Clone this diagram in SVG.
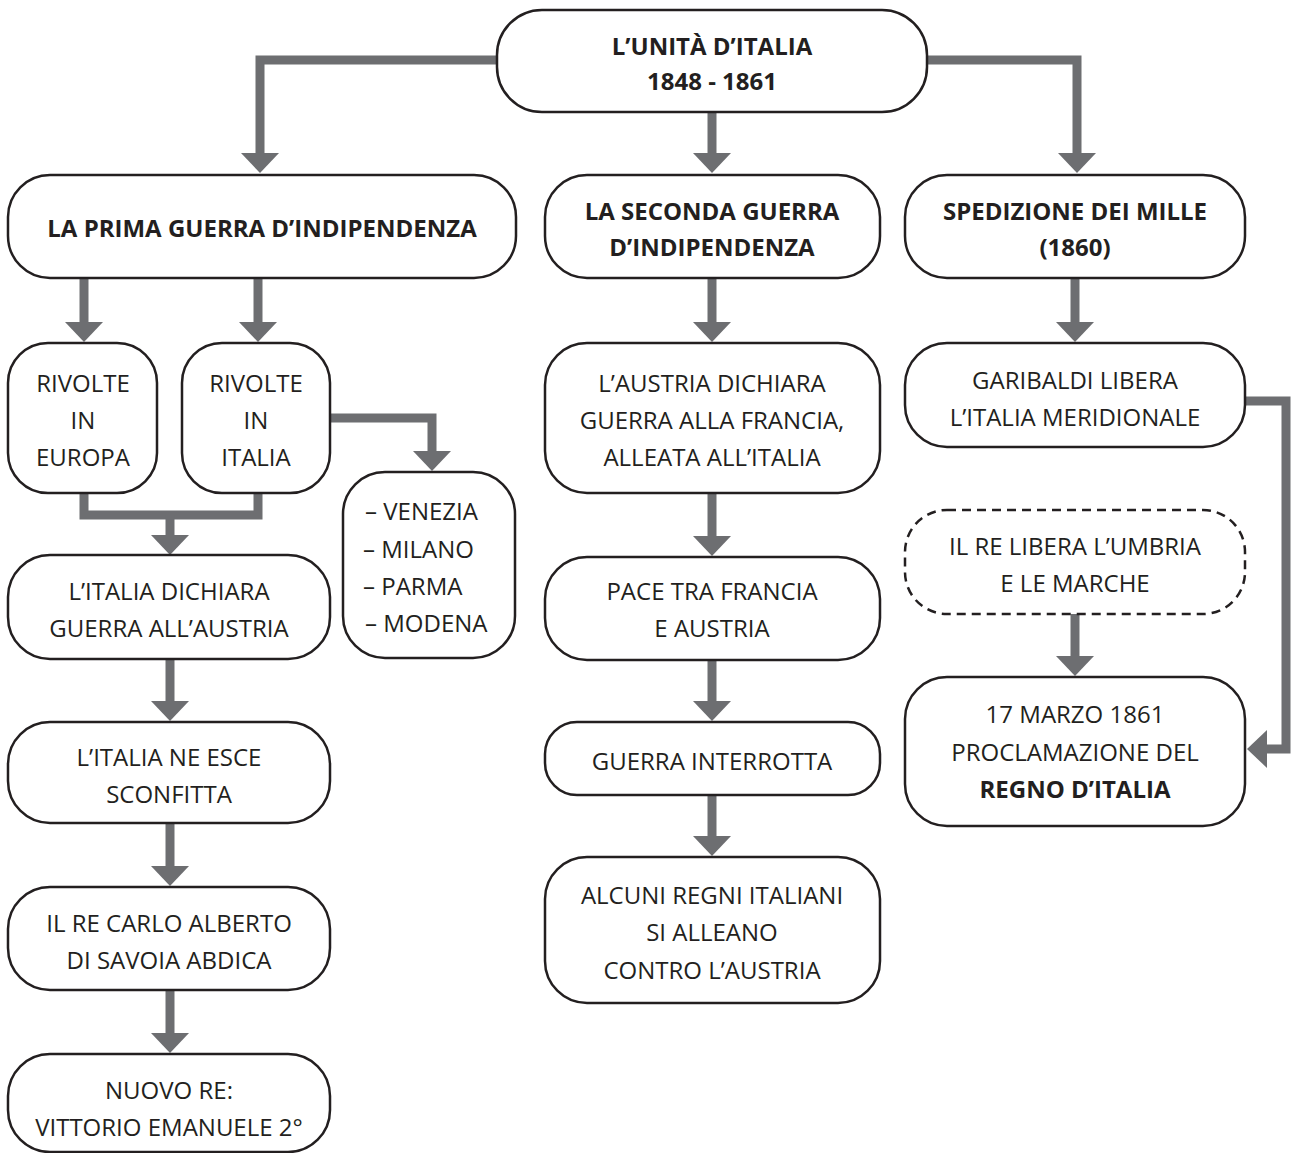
<svg xmlns="http://www.w3.org/2000/svg" width="1291" height="1153" viewBox="0 0 1291 1153">
<style>
.box{fill:#fff;stroke:#231f20;stroke-width:2.5}
.dash{stroke-dasharray:9 6}
.t{font-family:"Open Sans","Noto Sans","Liberation Sans",sans-serif;font-size:24px;fill:#231f20;text-anchor:middle;dominant-baseline:central}
.b{font-weight:bold}
.l{text-anchor:start}
.c{fill:none;stroke:#6d6e71;stroke-width:9;marker-end:url(#ah)}
.c2{fill:none;stroke:#6d6e71;stroke-width:9}
</style>
<defs>
<marker id="ah" viewBox="0 0 20 38" refX="0" refY="19" markerWidth="20" markerHeight="38" markerUnits="userSpaceOnUse" orient="auto">
<path d="M0,0 L20,19 L0,38 Z" fill="#6d6e71"/>
</marker>
</defs>
<rect width="1291" height="1153" fill="#fff"/>
<g id="connectors">
<path class="c" d="M497,60 H260 V153"/>
<path class="c" d="M712,112 V153"/>
<path class="c" d="M927,60 H1077 V153"/>
<path class="c" d="M84,278 V322"/>
<path class="c" d="M258,278 V322"/>
<path class="c" d="M330,418 H432 V451"/>
<path class="c2" d="M84,493 V515 H258 V493"/>
<path class="c" d="M170,515 V535"/>
<path class="c" d="M170,659 V701"/>
<path class="c" d="M170,823 V866"/>
<path class="c" d="M170,990 V1033"/>
<path class="c" d="M712,278 V322"/>
<path class="c" d="M712,493 V536"/>
<path class="c" d="M712,660 V701"/>
<path class="c" d="M712,795 V836"/>
<path class="c" d="M1075,278 V322"/>
<path class="c" d="M1245,401 H1286 V749 H1267"/>
<path class="c" d="M1075,614 V656"/>
</g>
<g id="n-top"><rect class="box" x="497" y="10" width="430" height="102" rx="45"/>
<text class="t b" x="712" y="45">L’UNITÀ D’ITALIA</text><text class="t b" x="712" y="80">1848 - 1861</text></g>
<g id="n-prima"><rect class="box" x="8" y="175" width="508" height="103" rx="42"/>
<text class="t b" x="262" y="227">LA PRIMA GUERRA D’INDIPENDENZA</text></g>
<g id="n-seconda"><rect class="box" x="545" y="175" width="335" height="103" rx="42"/>
<text class="t b" x="712" y="210">LA SECONDA GUERRA</text><text class="t b" x="712" y="246">D’INDIPENDENZA</text></g>
<g id="n-spedizione"><rect class="box" x="905" y="175" width="340" height="103" rx="42"/>
<text class="t b" x="1075" y="210">SPEDIZIONE DEI MILLE</text><text class="t b" x="1075" y="246">(1860)</text></g>
<g id="n-europa"><rect class="box" x="8" y="343" width="149" height="150" rx="40"/>
<text class="t" x="83" y="382">RIVOLTE</text><text class="t" x="83" y="419">IN</text><text class="t" x="83" y="456">EUROPA</text></g>
<g id="n-italia"><rect class="box" x="182" y="343" width="148" height="150" rx="40"/>
<text class="t" x="256" y="382">RIVOLTE</text><text class="t" x="256" y="419">IN</text><text class="t" x="256" y="456">ITALIA</text></g>
<g id="n-citta"><rect class="box" x="343" y="472" width="172" height="186" rx="42"/>
<text class="t l" x="365" y="510">– VENEZIA</text><text class="t l" x="363" y="548">– MILANO</text><text class="t l" x="363" y="585">– PARMA</text><text class="t l" x="365" y="622">– MODENA</text></g>
<g id="n-dichiara"><rect class="box" x="8" y="555" width="322" height="104" rx="42"/>
<text class="t" x="169" y="590">L’ITALIA DICHIARA</text><text class="t" x="169" y="627">GUERRA ALL’AUSTRIA</text></g>
<g id="n-sconfitta"><rect class="box" x="8" y="722" width="322" height="101" rx="42"/>
<text class="t" x="169" y="756">L’ITALIA NE ESCE</text><text class="t" x="169" y="793">SCONFITTA</text></g>
<g id="n-abdica"><rect class="box" x="8" y="887" width="322" height="103" rx="42"/>
<text class="t" x="169" y="922">IL RE CARLO ALBERTO</text><text class="t" x="169" y="959">DI SAVOIA ABDICA</text></g>
<g id="n-nuovore"><rect class="box" x="8" y="1054" width="322" height="98" rx="42"/>
<text class="t" x="169" y="1089">NUOVO RE:</text><text class="t" x="169" y="1126">VITTORIO EMANUELE 2°</text></g>
<g id="n-austria"><rect class="box" x="545" y="343" width="335" height="150" rx="42"/>
<text class="t" x="712" y="382">L’AUSTRIA DICHIARA</text><text class="t" x="712" y="419">GUERRA ALLA FRANCIA,</text><text class="t" x="712" y="456">ALLEATA ALL’ITALIA</text></g>
<g id="n-pace"><rect class="box" x="545" y="557" width="335" height="103" rx="42"/>
<text class="t" x="712" y="590">PACE TRA FRANCIA</text><text class="t" x="712" y="627">E AUSTRIA</text></g>
<g id="n-interrotta"><rect class="box" x="545" y="722" width="335" height="73" rx="32"/>
<text class="t" x="712" y="760">GUERRA INTERROTTA</text></g>
<g id="n-alleano"><rect class="box" x="545" y="857" width="335" height="146" rx="42"/>
<text class="t" x="712" y="894">ALCUNI REGNI ITALIANI</text><text class="t" x="712" y="931">SI ALLEANO</text><text class="t" x="712" y="969">CONTRO L’AUSTRIA</text></g>
<g id="n-garibaldi"><rect class="box" x="905" y="343" width="340" height="104" rx="42"/>
<text class="t" x="1075" y="379">GARIBALDI LIBERA</text><text class="t" x="1075" y="416">L’ITALIA MERIDIONALE</text></g>
<g id="n-umbria"><rect class="box dash" x="905" y="510" width="340" height="104" rx="42"/>
<text class="t" x="1075" y="545">IL RE LIBERA L’UMBRIA</text><text class="t" x="1075" y="582">E LE MARCHE</text></g>
<g id="n-regno"><rect class="box" x="905" y="677" width="340" height="149" rx="42"/>
<text class="t" x="1075" y="713">17 MARZO 1861</text><text class="t" x="1075" y="751">PROCLAMAZIONE DEL</text><text class="t b" x="1075" y="788">REGNO D’ITALIA</text></g>
</svg>
